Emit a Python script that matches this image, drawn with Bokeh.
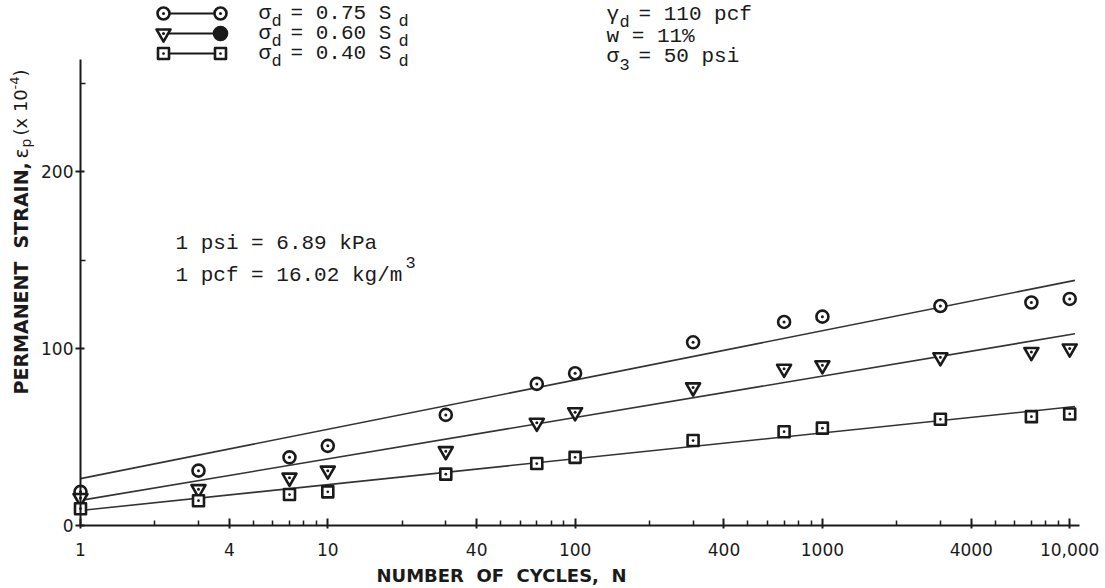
import math
from bokeh.plotting import figure
from bokeh.models import Range1d, FixedTicker, Label
from bokeh.embed import file_html
from bokeh.resources import INLINE

# ---------------- data ----------------
cycles = [1, 3, 7, 10, 30, 70, 100, 300, 700, 1000, 3000, 7000, 10000]
strain_075 = [19, 31, 38.5, 45, 62.5, 80, 86, 103.5, 115, 118, 124, 126, 128]
strain_060 = [15.5, 20.5, 27, 31, 42, 58, 64, 78, 88.5, 90.5, 95, 98, 100]
strain_040 = [9.5, 14, 17.5, 19, 29, 35, 38.5, 48, 53, 55, 60, 61.5, 63]

fit_cycles = [1, 10500]
fit_075 = [26.5, 138.5]
fit_060 = [14.2, 108.3]
fit_040 = [8.5, 67.2]

x_major_ticks = [1, 4, 10, 40, 100, 400, 1000, 4000, 10000]
x_tick_labels = ["1", "4", "10", "40", "100", "400", "1000", "4000", "10,000"]
x_minor_ticks = [2, 3, 5, 6, 7, 8, 9,
                 20, 30, 50, 60, 70, 80, 90,
                 200, 300, 500, 600, 700, 800, 900,
                 2000, 3000, 5000, 6000, 7000, 8000, 9000]
y_major_ticks = [0, 100, 200]
y_tick_labels = ["0", "100", "200"]
y_minor_ticks = [150, 250]
x_axis_span = (1, 11000)
y_axis_span = (0, 263)

NB = "\u00a0"

# ---------------- geometry (page pixels -> data) ----------------
W, H = 1100, 585
X0_PX, DECADE_PX = 80, 247.3      # where N = 1 sits, pixels per decade
Y0_PX, UNIT_PX = 525, 1.77        # where strain 0 sits, pixels per unit

def X(px):
    return 10 ** ((px - X0_PX) / DECADE_PX)

def Y(py):
    return (Y0_PX - py) / UNIT_PX

p = figure(x_axis_type="log", x_range=Range1d(X(0), X(W)), y_range=Range1d(Y(H), Y(0)),
           width=W, height=H, min_border=0,
           output_backend="svg", toolbar_location=None)
p.outline_line_color = None
p.xgrid.visible = False
p.ygrid.visible = False
p.background_fill_color = "white"
p.border_fill_color = "white"

INK = "#1a1a1a"
TICK_FONT = "DejaVu Sans"
MONO = "Liberation Mono"
SANS = "DejaVu Sans"

# x axis
xa = p.xaxis[0]
xa.fixed_location = 0
xa.bounds = x_axis_span
xa.ticker = FixedTicker(ticks=x_major_ticks, minor_ticks=x_minor_ticks)
xa.major_label_overrides = {t: l for t, l in zip(x_major_ticks, x_tick_labels)}
xa.axis_line_width = 2
xa.axis_line_color = INK
xa.major_tick_line_color = INK
xa.minor_tick_line_color = INK
xa.major_tick_line_width = 2
xa.minor_tick_line_width = 1.5
xa.major_tick_in = 7
xa.major_tick_out = 3
xa.minor_tick_in = 5
xa.minor_tick_out = 0
xa.major_label_standoff = 14
xa.major_label_text_font = TICK_FONT
xa.major_label_text_font_size = "17px"
xa.major_label_text_color = INK

# y axis
ya = p.yaxis[0]
ya.fixed_location = 1
ya.bounds = y_axis_span
ya.ticker = FixedTicker(ticks=y_major_ticks, minor_ticks=y_minor_ticks)
ya.major_label_overrides = {t: l for t, l in zip(y_major_ticks, y_tick_labels)}
ya.axis_line_width = 2
ya.axis_line_color = INK
ya.major_tick_line_color = INK
ya.minor_tick_line_color = INK
ya.major_tick_line_width = 2
ya.minor_tick_line_width = 1.5
ya.major_tick_in = 4
ya.major_tick_out = 5
ya.minor_tick_in = 5
ya.minor_tick_out = 0
ya.major_label_standoff = 2
ya.major_label_text_font = TICK_FONT
ya.major_label_text_font_size = "17px"
ya.major_label_text_color = INK

# ---------------- fitted lines ----------------
for fit in (fit_075, fit_060, fit_040):
    p.line(fit_cycles, fit, line_color="#333333", line_width=1.6)

# ---------------- data points ----------------
MS = 12
LW = 2.6
p.scatter(cycles, strain_075, marker="circle_dot", size=MS, line_width=LW,
          line_color=INK, fill_color="white")
p.scatter(cycles, strain_060, marker="inverted_triangle", size=MS + 2, line_width=LW,
          line_color=INK, fill_color="white", line_join="round")
p.scatter(cycles, strain_060, marker="dot", size=MS, line_color=INK)
p.scatter(cycles, strain_040, marker="square_dot", size=MS - 1, line_width=LW,
          line_color=INK, fill_color="white", line_join="round")

# ---------------- legend (drawn by hand) ----------------
rows = [13, 33, 53]
lx0, lx1 = 163, 220
for ry in rows:
    p.line([X(lx0), X(lx1)], [Y(ry), Y(ry)], line_color=INK, line_width=2)
p.scatter([X(lx0), X(lx1)], [Y(rows[0])] * 2, marker="circle_dot", size=MS,
          line_width=LW, line_color=INK, fill_color="white")
p.scatter([X(lx0)], [Y(rows[1])], marker="inverted_triangle", size=MS + 2,
          line_width=LW, line_color=INK, fill_color="white", line_join="round")
p.scatter([X(lx0)], [Y(rows[1])], marker="dot", size=MS, line_color=INK)
p.scatter([X(lx1)], [Y(rows[1])], marker="circle", size=MS + 1,
          line_width=LW, line_color=INK, fill_color=INK)
p.scatter([X(lx0), X(lx1)], [Y(rows[2])] * 2, marker="square_dot", size=MS - 1,
          line_width=LW, line_color=INK, fill_color="white", line_join="round")

def mono(px, py, text, size=21):
    p.add_layout(Label(x=X(px), y=Y(py), text=text, text_font=MONO,
                       text_font_size=f"{size}px", text_color=INK,
                       text_baseline="middle", text_align="left"))

legend_texts = ["= 0.75 S", "= 0.60 S", "= 0.40 S"]
for ry, t in zip(rows, legend_texts):
    mono(258, ry, "\u03c3")
    mono(271, ry + 8, "d", size=17)
    mono(290, ry, t)
    mono(398, ry + 8, "d", size=17)

# conditions block
CX = 606
mono(CX, 14, "\u03b3")
mono(CX + 13, 22, "d", size=17)
mono(CX + 32, 14, "= 110 pcf")
mono(CX, 36, "w = 11%")
mono(CX, 56, "\u03c3")
mono(CX + 13, 64, "3", size=17)
mono(CX + 32, 56, "= 50 psi")

# unit notes
mono(175, 243, "1 psi = 6.89 kPa")
mono(175, 275, "1 pcf = 16.02 kg/m")
mono(405, 262, "3", size=17)

# ---------------- axis titles ----------------
p.add_layout(Label(x=X(501), y=Y(575),
                   text=f"NUMBER{NB}{NB}OF{NB}{NB}CYCLES,{NB}{NB}N",
                   text_font=SANS, text_font_style="bold", text_font_size="18px",
                   text_color=INK, text_align="center", text_baseline="middle"))

def vlab(px, py, text, size, bold=False):
    p.add_layout(Label(x=X(px), y=Y(py), text=text, angle=math.pi / 2,
                       text_font=SANS, text_font_style="bold" if bold else "normal",
                       text_font_size=f"{size}px", text_color=INK,
                       text_align="left", text_baseline="middle"))

vlab(20, 394, f"PERMANENT{NB}{NB}STRAIN,", 19, bold=True)
vlab(20, 158, "\u03b5", 19)
vlab(25, 147, "p", 14)
vlab(20, 135, f"(x{NB}10", 18)
vlab(14, 89, "-4", 13)
vlab(20, 76, ")", 18)

open("out.html", "w").write(file_html(p, INLINE))
